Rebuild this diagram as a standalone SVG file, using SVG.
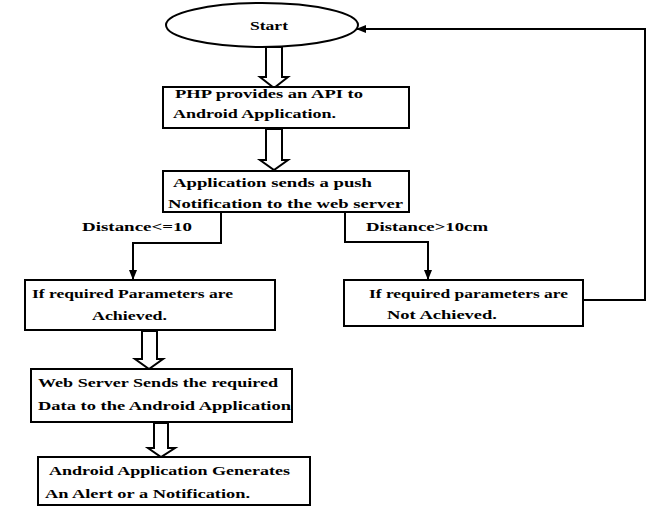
<svg xmlns="http://www.w3.org/2000/svg" width="653" height="509" viewBox="0 0 653 509">
<style>
.box{fill:#fff;stroke:#000;stroke-width:2}
.t{font-family:"Liberation Serif","Times New Roman",serif;font-weight:bold;font-size:13px;fill:#000}
.ln{fill:none;stroke:#000;stroke-width:2}
.hollow{fill:#fff;stroke:#000;stroke-width:2;stroke-linejoin:miter}
</style>
<defs>
<marker id="ah" markerWidth="10" markerHeight="10" refX="9" refY="5" orient="auto" markerUnits="userSpaceOnUse">
<path d="M0,1 L10,5 L0,9 Z" fill="#000"/>
</marker>
</defs>
<rect width="653" height="509" fill="#fff"/>
<g id="connectors">
<path class="hollow" d="M266,47 L266,77 L260,77 L274,88 L288,77 L282,77 L282,47 Z"/>
<path class="hollow" d="M266,129 L266,160 L260,160 L274,170 L288,160 L282,160 L282,129 Z"/>
<path class="hollow" d="M142,331 L142,359 L135,359 L149,369 L163,359 L157,359 L157,331 Z"/>
<path class="hollow" d="M154,423 L154,448 L148,448 L161,457 L175,448 L168,448 L168,423 Z"/>
<path class="ln" d="M221,213 L221,243 L133,243 L133,279" marker-end="url(#ah)"/>
<path class="ln" d="M345,213 L345,242 L428,242 L428,279" marker-end="url(#ah)"/>
<path class="ln" d="M584,300 L645,300 L645,29 L357,29" marker-end="url(#ah)"/>
<text class="t" x="82" y="231" textLength="110" lengthAdjust="spacingAndGlyphs">Distance&lt;=10</text>
<text class="t" x="366" y="231" textLength="122" lengthAdjust="spacingAndGlyphs">Distance&gt;10cm</text>
</g>
<g id="start">
<ellipse class="box" cx="262" cy="25" rx="96" ry="22"/>
<text class="t" x="250" y="30" textLength="38" lengthAdjust="spacingAndGlyphs">Start</text>
</g>
<g id="php">
<rect class="box" x="163" y="87" width="246" height="41"/>
<text class="t" x="175" y="98" textLength="188" lengthAdjust="spacingAndGlyphs">PHP provides an API to</text>
<text class="t" x="173" y="118" textLength="163" lengthAdjust="spacingAndGlyphs">Android Application.</text>
</g>
<g id="push">
<rect class="box" x="163" y="171" width="246" height="41"/>
<text class="t" x="173" y="187" textLength="199" lengthAdjust="spacingAndGlyphs">Application sends a push</text>
<text class="t" x="168" y="208" textLength="235" lengthAdjust="spacingAndGlyphs">Notification to the web server</text>
</g>
<g id="achieved">
<rect class="box" x="25" y="280" width="250" height="50"/>
<text class="t" x="32" y="298" textLength="201" lengthAdjust="spacingAndGlyphs">If required Parameters  are</text>
<text class="t" x="92" y="320" textLength="75" lengthAdjust="spacingAndGlyphs">Achieved.</text>
</g>
<g id="notachieved">
<rect class="box" x="344" y="280" width="239" height="46"/>
<text class="t" x="369" y="298" textLength="199" lengthAdjust="spacingAndGlyphs">If required parameters  are</text>
<text class="t" x="387" y="319" textLength="110" lengthAdjust="spacingAndGlyphs">Not Achieved.</text>
</g>
<g id="sends">
<rect class="box" x="31" y="369" width="261" height="53"/>
<text class="t" x="38" y="387" textLength="240" lengthAdjust="spacingAndGlyphs">Web Server Sends the required</text>
<text class="t" x="38" y="410" textLength="253" lengthAdjust="spacingAndGlyphs">Data to the Android Application</text>
</g>
<g id="alert">
<rect class="box" x="38" y="457" width="272" height="48"/>
<text class="t" x="49" y="475" textLength="241" lengthAdjust="spacingAndGlyphs">Android Application Generates</text>
<text class="t" x="45" y="498" textLength="205" lengthAdjust="spacingAndGlyphs">An Alert or a Notification.</text>
</g>
</svg>
